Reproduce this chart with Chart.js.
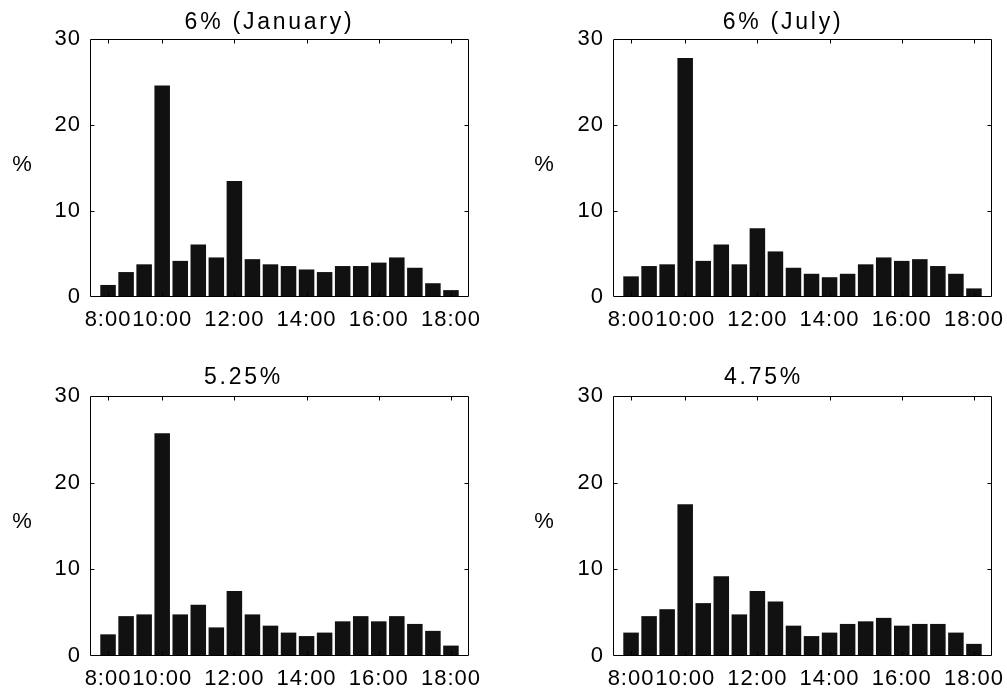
<!DOCTYPE html>
<html>
<head>
<meta charset="utf-8">
<script src="https://cdn.jsdelivr.net/npm/chart.js@4.4.1/dist/chart.umd.min.js"></script>
<style>
  html, body { margin: 0; padding: 0; background: #fff; }
  body { width: 1007px; height: 696px; position: relative; overflow: hidden; }
  .painel { position: absolute; }
</style>
</head>
<body>
<div id="p1" class="painel"><canvas></canvas></div>
<div id="p2" class="painel"><canvas></canvas></div>
<div id="p3" class="painel"><canvas></canvas></div>
<div id="p4" class="painel"><canvas></canvas></div>
<script>
// meias-horas 8:00–18:00, 20 barras; rótulos só em algumas posições
const horas = ['8:00', '10:00', '12:00', '14:00', '16:00', '18:00'];
const posHoras = [1, 4, 8, 12, 16, 20];
const titulos = ['6% (January)', '6% (July)', '5.25%', '4.75%'];

const valoresJaneiro = [1.4, 2.9, 3.8, 24.6, 4.2, 6.1, 4.6, 13.5, 4.4, 3.8, 3.6, 3.2, 2.9, 3.6, 3.6, 4.0, 4.6, 3.4, 1.6, 0.8];
const valoresJulho   = [2.4, 3.6, 3.8, 27.8, 4.2, 6.1, 3.8, 8.0, 5.3, 3.4, 2.7, 2.3, 2.7, 3.8, 4.6, 4.2, 4.4, 3.6, 2.7, 1.0];
const valores525     = [2.5, 4.6, 4.8, 25.7, 4.8, 5.9, 3.3, 7.5, 4.8, 3.5, 2.7, 2.3, 2.7, 4.0, 4.6, 4.0, 4.6, 3.7, 2.9, 1.2];
const valores475     = [2.7, 4.6, 5.4, 17.5, 6.1, 9.2, 4.8, 7.5, 6.3, 3.5, 2.3, 2.7, 3.7, 4.0, 4.4, 3.5, 3.7, 3.7, 2.7, 1.4];

const FONTE = "'Liberation Sans', Arial, Helvetica, sans-serif";

// caixa da área de plotagem estilo MATLAB: moldura, ticks para dentro, título e '%'
const moldura = {
  id: 'moldura',
  beforeDraw(chart) { chart.ctx.letterSpacing = '1px'; },
  afterDraw(chart, args, opts) {
    const { ctx, chartArea } = chart;
    const sx = chart.scales.x, sy = chart.scales.y;
    const L = Math.round(chartArea.left) + 0.5, R = Math.round(chartArea.right) - 0.5;
    const T = Math.round(chartArea.top) + 0.5, B = Math.round(chartArea.bottom) - 0.5;
    ctx.save();
    ctx.strokeStyle = '#000';
    ctx.lineWidth = 1;
    ctx.beginPath();
    ctx.rect(L, T, R - L, B - T);
    posHoras.forEach(v => {
      const px = Math.round(sx.getPixelForValue(v)) + 0.5;
      ctx.moveTo(px, B); ctx.lineTo(px, B - 4);
      ctx.moveTo(px, T); ctx.lineTo(px, T + 4);
    });
    [10, 20].forEach(v => {
      const py = Math.round(sy.getPixelForValue(v)) + 0.5;
      ctx.moveTo(L, py); ctx.lineTo(L + 4, py);
      ctx.moveTo(R, py); ctx.lineTo(R - 4, py);
    });
    ctx.stroke();

    ctx.fillStyle = '#000';
    ctx.textAlign = 'center';
    ctx.font = `23px ${FONTE}`;
    ctx.letterSpacing = '2.75px';
    ctx.textBaseline = 'alphabetic';
    ctx.fillText(opts.titulo, opts.tituloX, opts.tituloY);
    ctx.font = `22px ${FONTE}`;
    ctx.letterSpacing = '0px';
    ctx.textBaseline = 'middle';
    ctx.fillText('%', opts.pctX, opts.pctY);
    ctx.restore();
  }
};

const PAINEIS = [
  { id: 'p1', box: [0, 0, 503, 340],   area: [90, 39, 469, 297],   valores: valoresJaneiro, titulo: titulos[0], tituloX: 269.5, tituloY: 29, pctX: 22, pctY: 165 },
  { id: 'p2', box: [503, 0, 504, 340], area: [613, 39, 992, 297],  valores: valoresJulho,   titulo: titulos[1], tituloX: 280,   tituloY: 29, pctX: 41, pctY: 165 },
  { id: 'p3', box: [0, 340, 503, 356], area: [90, 396, 469, 656],  valores: valores525,     titulo: titulos[2], tituloX: 243.5, tituloY: 44, pctX: 22, pctY: 181.5 },
  { id: 'p4', box: [503, 340, 504, 356], area: [613, 396, 992, 656], valores: valores475,   titulo: titulos[3], tituloX: 260.5, tituloY: 44, pctX: 41, pctY: 181.5 },
];

function montarPainel(p) {
  const [bx, by, bw, bh] = p.box;
  const [al, at, ar, ab] = p.area;
  const div = document.getElementById(p.id);
  div.style.cssText = `left:${bx}px;top:${by}px;width:${bw}px;height:${bh}px`;
  const canvas = div.querySelector('canvas');
  const fonteTicks = { family: FONTE, size: 22 };
  return new Chart(canvas.getContext('2d'), {
    type: 'bar',
    data: {
      datasets: [{
        data: p.valores.map((v, i) => ({ x: i + 1, y: v })),
        backgroundColor: '#111',
        borderWidth: 0,
        barPercentage: 0.86,
        categoryPercentage: 1,
      }],
    },
    options: {
      responsive: true, maintainAspectRatio: false, animation: false,
      layout: { padding: { top: at - by, right: bx + bw - ar, left: 0, bottom: 0 } },
      plugins: {
        legend: { display: false },
        tooltip: { enabled: false },
        moldura: { titulo: p.titulo, tituloX: p.tituloX, tituloY: p.tituloY, pctX: p.pctX, pctY: p.pctY },
      },
      scales: {
        x: {
          type: 'linear', min: 0, max: 21, offset: false,
          grid: { display: false, drawTicks: false }, border: { display: false },
          afterBuildTicks: s => { s.ticks = posHoras.map(v => ({ value: v })); },
          afterFit: s => { s.height = by + bh - ab; s.paddingLeft = 0; s.paddingRight = 0; },
          ticks: {
            autoSkip: false, maxRotation: 0, minRotation: 0, padding: 10, color: '#000', font: fonteTicks,
            callback: v => { const k = posHoras.indexOf(v); return k >= 0 ? horas[k] : ''; },
          },
        },
        y: {
          min: 0, max: 30,
          grid: { display: false, drawTicks: false }, border: { display: false },
          afterFit: s => { s.width = al - bx; s.paddingTop = 0; s.paddingBottom = 0; },
          ticks: { stepSize: 10, padding: 9, color: '#000', font: fonteTicks },
        },
      },
    },
    plugins: [moldura],
  });
}

PAINEIS.forEach(montarPainel);
</script>
</body>
</html>
